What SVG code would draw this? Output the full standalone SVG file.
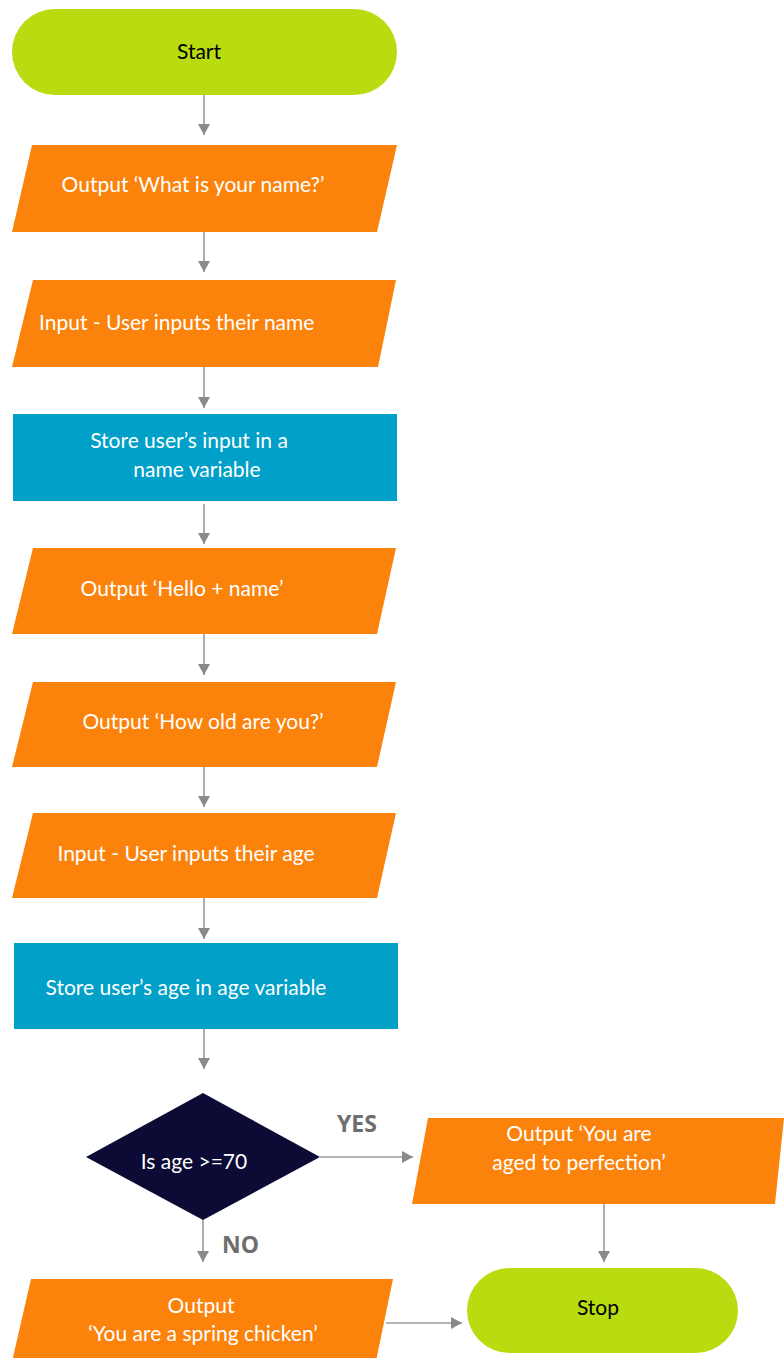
<svg xmlns="http://www.w3.org/2000/svg" width="784" height="1358" viewBox="0 0 784 1358">
<defs>
<marker id="ah" markerUnits="userSpaceOnUse" markerWidth="12" markerHeight="12" viewBox="0 0 12 12" refX="11" refY="6" orient="auto">
<path d="M0,0 L11,6 L0,12 Z" fill="#8a8a8a"/>
</marker>
<style>
.term{fill:#b8dc0f}
.io{fill:#fb830c}
.proc{fill:#00a0c8}
.dec{fill:#0b0b35}
.t{font-family:Lato,"Open Sans",sans-serif;font-size:21px;fill:#ffffff}
.tb{font-family:Lato,"Open Sans",sans-serif;font-size:21px;fill:#000000}
.lbl{font-family:"Open Sans",sans-serif;font-size:23px;font-weight:bold;fill:#6e6e6e}
.c{stroke:#9a9a9a;stroke-width:1.6;fill:none;marker-end:url(#ah)}
</style>
</defs>
<rect width="784" height="1358" fill="#ffffff"/>
<g id="connectors">
<line class="c" x1="204" y1="95" x2="204" y2="135"/>
<line class="c" x1="204" y1="232" x2="204" y2="272"/>
<line class="c" x1="204" y1="367" x2="204" y2="408"/>
<line class="c" x1="204" y1="504" x2="204" y2="544"/>
<line class="c" x1="204" y1="634" x2="204" y2="675"/>
<line class="c" x1="204" y1="767" x2="204" y2="807"/>
<line class="c" x1="204" y1="898" x2="204" y2="939"/>
<line class="c" x1="204" y1="1029" x2="204" y2="1069"/>
<line class="c" x1="320" y1="1157" x2="413" y2="1157"/>
<line class="c" x1="203" y1="1220" x2="203" y2="1262"/>
<line class="c" x1="604" y1="1204" x2="604" y2="1262"/>
<line class="c" x1="386" y1="1323" x2="462" y2="1323"/>
<text class="lbl" x="337" y="1132">YES</text>
<text class="lbl" x="222" y="1253">NO</text>
</g>
<g id="start">
<rect class="term" x="12" y="9" width="385" height="86" rx="43" ry="43"/>
<text class="tb" x="199" y="59" text-anchor="middle">Start</text>
</g>
<g id="out-name">
<polygon class="io" points="32,145 397,145 377,232 12,232"/>
<text class="t" x="193" y="192" text-anchor="middle">Output ‘What is your name?’</text>
</g>
<g id="in-name">
<polygon class="io" points="33,280 396,280 378,367 12,367"/>
<text class="t" x="39" y="330">Input - User inputs their name</text>
</g>
<g id="store-name">
<rect class="proc" x="13" y="414" width="384" height="87"/>
<text class="t" x="189" y="448" text-anchor="middle">Store user’s input in a</text>
<text class="t" x="197" y="477" text-anchor="middle">name variable</text>
</g>
<g id="out-hello">
<polygon class="io" points="33,548 396,548 377,634 12,634"/>
<text class="t" x="182" y="596" text-anchor="middle">Output ‘Hello + name’</text>
</g>
<g id="out-age">
<polygon class="io" points="33,682 396,682 377,767 12,767"/>
<text class="t" x="203" y="729" text-anchor="middle">Output ‘How old are you?’</text>
</g>
<g id="in-age">
<polygon class="io" points="33,813 396,813 377,898 12,898"/>
<text class="t" x="186" y="861" text-anchor="middle">Input - User inputs their age</text>
</g>
<g id="store-age">
<rect class="proc" x="14" y="943" width="384" height="86"/>
<text class="t" x="186" y="995" text-anchor="middle">Store user’s age in age variable</text>
</g>
<g id="decision">
<polygon class="dec" points="203,1093 320,1157 203,1220 86,1157"/>
<text class="t" x="194" y="1169" text-anchor="middle">Is age &gt;=70</text>
</g>
<g id="out-perfection">
<polygon class="io" points="428,1118 784,1118 775,1204 412,1204"/>
<text class="t" x="579" y="1141" text-anchor="middle">Output ‘You are</text>
<text class="t" x="579" y="1170" text-anchor="middle">aged to perfection’</text>
</g>
<g id="out-chicken">
<polygon class="io" points="31,1279 393,1279 375,1366 11,1366"/>
<text class="t" x="201" y="1313" text-anchor="middle">Output</text>
<text class="t" x="203" y="1341" text-anchor="middle">‘You are a spring chicken’</text>
</g>
<g id="stop">
<rect class="term" x="467" y="1268" width="271" height="85" rx="42.5" ry="42.5"/>
<text class="tb" x="598" y="1315" text-anchor="middle">Stop</text>
</g>
</svg>
